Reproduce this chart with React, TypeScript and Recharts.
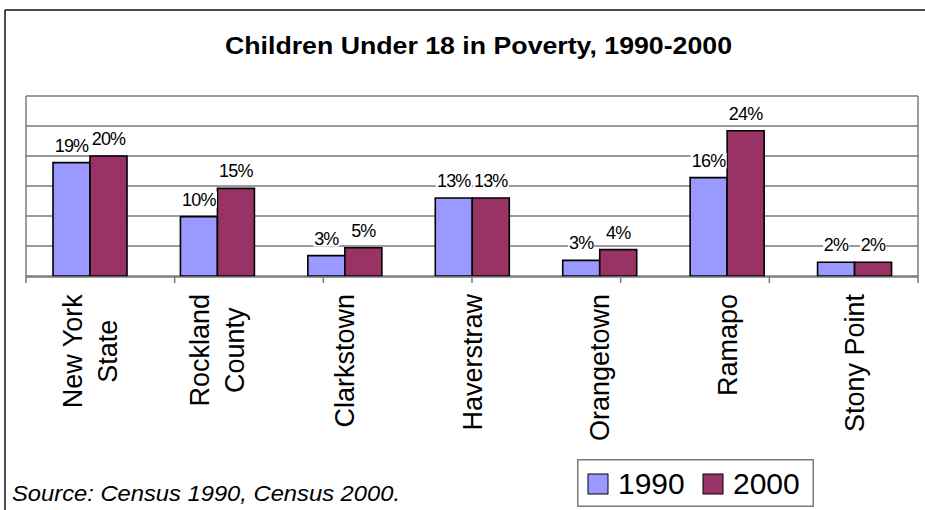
import React from "react";
import {
  BarChart,
  Bar,
  XAxis,
  YAxis,
  CartesianGrid,
  Legend,
  LabelList,
} from "recharts";

const categories = [
  "New York State",
  "Rockland County",
  "Clarkstown",
  "Haverstraw",
  "Orangetown",
  "Ramapo",
  "Stony Point",
];
const values1990 = [18.9, 9.9, 3.4, 13.0, 2.6, 16.4, 2.3];
const values2000 = [20.0, 14.6, 4.7, 13.0, 4.4, 24.2, 2.3];
const yTicks = [0, 5, 10, 15, 20, 25, 30];
const boundaryTicks = [0, 1, 2, 3, 4, 5, 6, 7];

const data = categories.map((name, i) => ({
  name,
  y1990: values1990[i],
  y2000: values2000[i],
}));

const FONT = '"Liberation Sans", Arial, sans-serif';
const GRID = "#7a7a7a";
const TICK_SIZE = 27;

let measureCtx: CanvasRenderingContext2D | null = null;
const textWidth = (s: string, font: string) => {
  if (!measureCtx) measureCtx = document.createElement("canvas").getContext("2d");
  if (!measureCtx) return s.length * 14;
  measureCtx.font = font;
  return measureCtx.measureText(s).width;
};

// long names wrap at the last space, like "New York" / "State"
const wrap = (s: string) => {
  const i = s.lastIndexOf(" ");
  if (i < 0 || textWidth(s, `${TICK_SIZE}px ${FONT}`) < 160) return [s];
  return [s.slice(0, i), s.slice(i + 1)];
};

const CategoryTick = (props: any) => {
  const { x, y, payload } = props;
  const lines = wrap(String(payload.value));
  const longest = Math.max(...lines.map((l) => textWidth(l, `${TICK_SIZE}px ${FONT}`)));
  const cy = y + longest / 2;
  return (
    <g>
      {lines.map((line, i) => {
        const bx = x + (i - (lines.length - 1) / 2) * 35 + TICK_SIZE * 0.36;
        return (
          <text
            key={i}
            transform={`translate(${bx},${cy}) rotate(-90)`}
            textAnchor="middle"
            fontFamily={FONT}
            fontSize={TICK_SIZE}
            fill="#000"
          >
            {line}
          </text>
        );
      })}
    </g>
  );
};

const EmptyTick = () => <g />;

const ValueLabel = (props: any) => {
  const { x, y, width, value } = props;
  const text = `${Math.round(value)}%`;
  const cx = x + width / 2;
  const base = y - 11;
  const w = textWidth(text, `18px ${FONT}`);
  return (
    <g>
      <rect x={cx - w / 2} y={base - 14} width={w} height={16} fill="#fff" />
      <text x={cx} y={base} textAnchor="middle" fontFamily={FONT} fontSize={18} letterSpacing={-0.8} fill="#000">
        {text}
      </text>
    </g>
  );
};

const LegendBox = (props: any) => {
  const items = props.payload || [];
  return (
    <svg width={237} height={48} style={{ display: "block" }}>
      <rect x={0.75} y={0.75} width={235.5} height={46.5} fill="#fff" stroke={GRID} strokeWidth={1.5} />
      {items.map((it: any, i: number) => (
        <g key={i}>
          <rect x={11 + i * 115} y={15} width={20} height={20} fill={it.color} stroke="#000" strokeWidth={1} />
          <text x={41 + i * 115} y={35} fontFamily={FONT} fontSize={30} fill="#000">
            {it.value}
          </text>
        </g>
      ))}
    </svg>
  );
};

export default function App() {
  return (
    <div style={{ position: "absolute", left: 0, top: 0, width: 925, height: 510, background: "#fff" }}>
      <svg width={925} height={510} style={{ position: "absolute", left: 0, top: 0 }}>
        <line x1={5} y1={10} x2={925} y2={10} stroke="#111" strokeWidth={1.5} />
        <line x1={5} y1={10} x2={5} y2={510} stroke="#111" strokeWidth={1.5} />
        <text x={225} y={54} fontFamily={FONT} fontWeight="bold" fontSize={24} textLength={507} lengthAdjust="spacingAndGlyphs" fill="#000">
          Children Under 18 in Poverty, 1990-2000
        </text>
        <text x={12} y={501} fontFamily={FONT} fontStyle="italic" fontSize={22} textLength={388} lengthAdjust="spacingAndGlyphs" fill="#000">
          Source: Census 1990, Census 2000.
        </text>
      </svg>
      <div style={{ position: "absolute", left: 0, top: 0 }}>
        <BarChart
          width={925}
          height={510}
          data={data}
          margin={{ top: 96, right: 6, bottom: 232, left: 25 }}
          barGap={0}
          barSize={37}
        >
          <CartesianGrid yAxisId="l" xAxisId="c" vertical={false} stroke={GRID} strokeWidth={1.5} fill="#fff" />
          <XAxis
            xAxisId="c"
            dataKey="name"
            height={1}
            interval={0}
            axisLine={{ stroke: GRID, strokeWidth: 1.5 }}
            tickLine={false}
            tickSize={0}
            tickMargin={17}
            tick={<CategoryTick />}
          />
          <XAxis
            xAxisId="b"
            type="number"
            domain={[0, 7]}
            ticks={boundaryTicks}
            interval={0}
            allowDataOverflow
            height={1}
            axisLine={false}
            tick={<EmptyTick />}
            tickSize={7}
            tickLine={{ stroke: GRID, strokeWidth: 1.5 }}
          />
          <YAxis
            yAxisId="l"
            domain={[0, 30]}
            ticks={yTicks}
            interval={0}
            width={1}
            tick={<EmptyTick />}
            tickLine={false}
            axisLine={{ stroke: GRID, strokeWidth: 1.5 }}
          />
          <YAxis
            yAxisId="r"
            orientation="right"
            domain={[0, 30]}
            ticks={yTicks}
            width={1}
            tick={false}
            tickLine={false}
            axisLine={{ stroke: GRID, strokeWidth: 1.5 }}
          />
          <Legend
            layout="horizontal"
            verticalAlign="middle"
            align="center"
            content={<LegendBox />}
            wrapperStyle={{ position: "absolute", left: 577, top: 459, width: 237, height: 48 }}
          />
          <Bar xAxisId="c" yAxisId="l" dataKey="y1990" name="1990" fill="#9999FF" stroke="#000" strokeWidth={1.6} isAnimationActive={false}>
            <LabelList dataKey="y1990" content={<ValueLabel />} />
          </Bar>
          <Bar xAxisId="c" yAxisId="l" dataKey="y2000" name="2000" fill="#993366" stroke="#000" strokeWidth={1.6} isAnimationActive={false}>
            <LabelList dataKey="y2000" content={<ValueLabel />} />
          </Bar>
        </BarChart>
      </div>
    </div>
  );
}
